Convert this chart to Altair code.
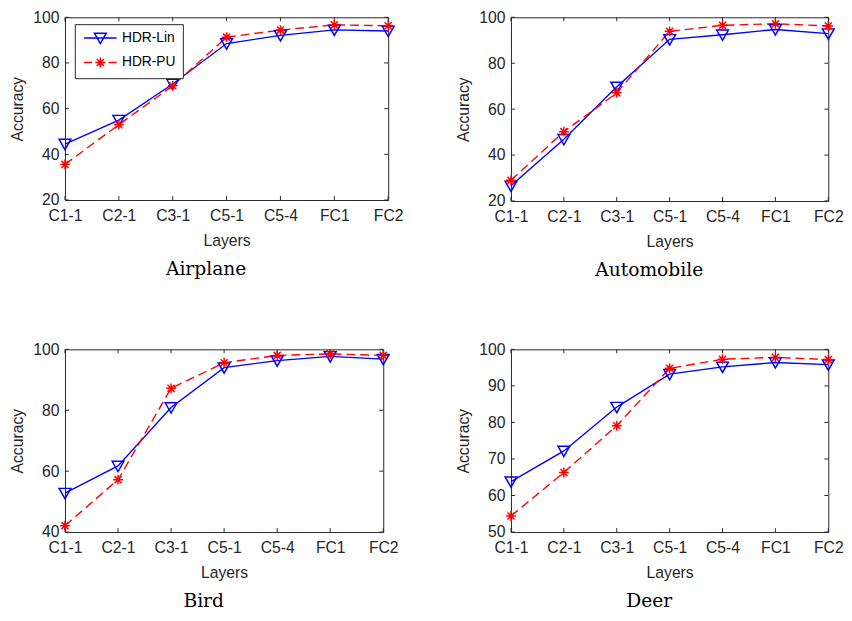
import altair as alt
import pandas as pd

layers = ["C1-1", "C2-1", "C3-1", "C5-1", "C5-4", "FC1", "FC2"]
series_names = ["HDR-Lin", "HDR-PU"]

airplane_lin = [44.5, 55.0, 70.8, 88.5, 92.1, 94.5, 94.0]
airplane_pu = [35.6, 53.0, 70.0, 91.3, 94.4, 96.7, 96.3]
automobile_lin = [26.6, 46.9, 69.7, 90.4, 92.4, 94.7, 92.9]
automobile_pu = [29.0, 50.2, 67.1, 93.9, 96.5, 97.2, 96.2]
bird_lin = [52.8, 61.7, 80.9, 94.0, 96.3, 97.7, 96.8]
bird_pu = [42.1, 57.2, 87.2, 95.6, 98.0, 98.5, 98.0]
deer_lin = [63.8, 72.2, 84.2, 93.2, 95.2, 96.4, 95.8]
deer_pu = [54.4, 66.3, 79.1, 94.8, 97.3, 97.8, 97.2]

titles = ["Airplane", "Automobile", "Bird", "Deer"]
y_domains = [[20, 100], [20, 100], [40, 100], [50, 100]]
y_ticks = [[20, 40, 60, 80, 100], [20, 40, 60, 80, 100],
           [40, 60, 80, 100], [50, 60, 70, 80, 90, 100]]

BLUE = "#0000ff"
RED = "#ff0000"
AXC = "#262626"
SANS = "Liberation Sans"
FS = 16

TRI = "M-1,-0.8L1,-0.8L0,0.95Z"
AST = "M0,-1V1M-1,0H1M-0.72,-0.72L0.72,0.72M-0.72,0.72L0.72,-0.72"
# legend symbols: line + marker (units scaled by sqrt(size)/2)
LEG_LIN = "M-0.75,0H4.75M1,-0.8L3,-0.8L2,0.95Z"
LEG_PU = ("M-0.75,0H0.6M1.3,0H2.7M3.4,0H4.75"
          "M2,-0.85V0.85M1.15,0H2.85M1.4,-0.6L2.6,0.6M1.4,0.6L2.6,-0.6")


def panel(title, lin, pu, dom, ticks, W, H, legend=False):
    df_lin = pd.DataFrame({"layer": layers, "acc": lin, "series": "HDR-Lin"})
    df_pu = pd.DataFrame({"layer": layers, "acc": pu, "series": "HDR-PU"})
    df_all = pd.concat([df_lin, df_pu])
    df_yt = pd.DataFrame({"acc": ticks})
    df_xt = pd.DataFrame({"layer": layers})

    xs = alt.Scale(type="point", padding=0)
    ys = alt.Scale(domain=dom, nice=False, zero=False)
    xa = alt.Axis(title="Layers", labelAngle=0, ticks=False,
                  labelPadding=8, titlePadding=9, domain=False,
                  labelFont=SANS, labelFontSize=FS, labelColor=AXC,
                  titleFont=SANS, titleFontSize=FS, titleColor=AXC,
                  titleFontWeight="normal", labelOverlap=False)
    ya = alt.Axis(title="Accuracy", values=ticks, ticks=False,
                  labelPadding=6, titlePadding=8,
                  domain=False, grid=False,
                  labelFont=SANS, labelFontSize=FS, labelColor=AXC,
                  titleFont=SANS, titleFontSize=FS, titleColor=AXC,
                  titleFontWeight="normal", labelOverlap=False,
                  labelFlush=False)
    x = alt.X("layer:N", sort=layers, scale=xs, axis=xa)
    y = alt.Y("acc:Q", scale=ys, axis=ya)

    lin_line = alt.Chart(df_lin).mark_line(color=BLUE, strokeWidth=1.4).encode(x=x, y=y)
    lin_pts = alt.Chart(df_lin).mark_point(shape=TRI, size=144, color=BLUE, filled=False,
                                           strokeWidth=1.5, opacity=1).encode(x=x, y=y)
    pu_line = alt.Chart(df_pu).mark_line(color=RED, strokeWidth=1.4,
                                         strokeDash=[9, 5]).encode(x=x, y=y)
    pu_pts = alt.Chart(df_pu).mark_point(shape=AST, size=100, color=RED, filled=False,
                                         strokeWidth=1.5, opacity=1).encode(x=x, y=y)

    tl = alt.Chart(df_yt).mark_rule(color=AXC, strokeWidth=1).encode(
        y=y, x=alt.value(0), x2=alt.value(4))
    tr = alt.Chart(df_yt).mark_rule(color=AXC, strokeWidth=1).encode(
        y=y, x=alt.value(W - 4), x2=alt.value(W))
    tb = alt.Chart(df_xt).mark_rule(color=AXC, strokeWidth=1).encode(
        x=x, y=alt.value(H - 4), y2=alt.value(H))
    tt = alt.Chart(df_xt).mark_rule(color=AXC, strokeWidth=1).encode(
        x=x, y=alt.value(0), y2=alt.value(4))

    parts = [lin_line, tl, tr, tb, tt, pu_line, lin_pts, pu_pts]
    if legend:
        leg = alt.Chart(df_all).mark_point(opacity=0, filled=False).encode(
            x=x, y=y,
            color=alt.Color("series:N", sort=series_names,
                            scale=alt.Scale(domain=series_names, range=[BLUE, RED]),
                            legend=alt.Legend(
                                title=None, orient="none", legendX=10, legendY=7,
                                fillColor="white", strokeColor=AXC, padding=7,
                                symbolSize=144, symbolStrokeWidth=1.5,
                                symbolFillColor="transparent", symbolOpacity=1,
                                labelFont=SANS, labelFontSize=14, labelColor="black",
                                labelOffset=27, rowPadding=7, cornerRadius=0)),
            shape=alt.Shape("series:N", sort=series_names,
                            scale=alt.Scale(domain=series_names, range=[LEG_LIN, LEG_PU])),
        )
        parts.append(leg)

    return alt.layer(*parts).properties(
        width=W, height=H,
        title=alt.TitleParams(title, orient="bottom", font="DejaVu Serif", fontSize=19,
                              fontWeight="normal", color="black", frame="bounds",
                              anchor="middle", offset=12),
    )


p1 = panel(titles[0], airplane_lin, airplane_pu, y_domains[0], y_ticks[0], 329, 186, legend=True)
p2 = panel(titles[1], automobile_lin, automobile_pu, y_domains[1], y_ticks[1], 323, 187)
p3 = panel(titles[2], bird_lin, bird_pu, y_domains[2], y_ticks[2], 324, 186)
p4 = panel(titles[3], deer_lin, deer_pu, y_domains[3], y_ticks[3], 323, 186)

row1 = alt.hconcat(p1, p2, spacing=51)
row2 = alt.hconcat(p3, p4, spacing=56)

chart = alt.vconcat(row1, row2, spacing=61).properties(
    padding={"top": -5, "left": 0, "right": 0, "bottom": 0}
).configure_view(
    stroke=AXC, strokeWidth=1
).configure_axis(
    labelFont=SANS, labelFontSize=FS, labelColor=AXC,
    titleFont=SANS, titleFontSize=FS, titleColor=AXC, titleFontWeight="normal",
    labelOverlap=False,
).resolve_scale(color="independent", shape="independent")

chart.save("out.html", embed_options={"renderer": "svg", "actions": False})
